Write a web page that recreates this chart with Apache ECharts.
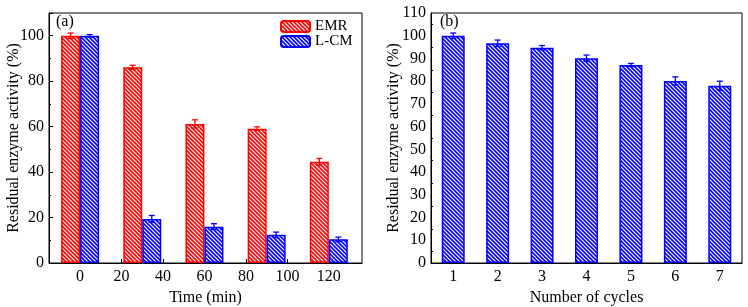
<!DOCTYPE html>
<html>
<head>
<meta charset="utf-8">
<script src="https://cdn.jsdelivr.net/npm/echarts@6/dist/echarts.min.js"></script>
<style>
  html, body { margin: 0; padding: 0; background: #fff; }
  #chart { width: 748px; height: 307px; }
</style>
</head>
<body>
<div id="chart"></div>
<script>
// panel (a): time course
const timeMin = [0, 30, 60, 90, 120];
const emrValues = [100, 86.1, 61.2, 59.1, 44.5];
const emrErr = [1.2, 0.9, 1.8, 0.8, 1.5];
const lcmValues = [100, 19.4, 16.0, 12.4, 10.4];
const lcmErr = [0.5, 1.5, 1.3, 1.2, 1.0];
const timeTicks = [0, 20, 40, 60, 80, 100, 120];

// panel (b): reuse cycles
const cycles = ['1', '2', '3', '4', '5', '6', '7'];
const cycleValues = [100, 96.7, 94.7, 90.1, 87.1, 80.1, 78.0];
const cycleErr = [1.2, 1.4, 1.0, 1.4, 0.7, 1.8, 2.0];

const FONT = 'Liberation Serif';

// diagonal hatch fill
function hatch(color) {
  const c = document.createElement('canvas');
  c.width = 4; c.height = 4;
  const ctx = c.getContext('2d');
  ctx.fillStyle = '#fff';
  ctx.fillRect(0, 0, 4, 4);
  ctx.strokeStyle = color;
  ctx.lineWidth = 1.6;
  for (let k = -1; k <= 1; k++) {
    ctx.beginPath();
    ctx.moveTo(4 * k - 1, -1);
    ctx.lineTo(4 * k + 5, 5);
    ctx.stroke();
  }
  return { image: c, repeat: 'repeat' };
}

function errorBars(xs, ys, errs, offset, color, xIdx, yIdx) {
  return {
    type: 'custom',
    xAxisIndex: xIdx,
    yAxisIndex: yIdx,
    silent: true,
    z: 5,
    data: xs.map((x, i) => [x, ys[i], errs[i]]),
    renderItem: (params, api) => {
      const lo = api.coord([api.value(0), api.value(1) - api.value(2)]);
      const hi = api.coord([api.value(0), api.value(1) + api.value(2)]);
      const x = hi[0] + offset;
      const w = 3;
      const style = { stroke: color, lineWidth: 1.3 };
      return {
        type: 'group',
        children: [
          { type: 'line', shape: { x1: x, y1: lo[1], x2: x, y2: hi[1] }, style },
          { type: 'line', shape: { x1: x - w, y1: hi[1], x2: x + w, y2: hi[1] }, style },
          { type: 'line', shape: { x1: x - w, y1: lo[1], x2: x + w, y2: lo[1] }, style }
        ]
      };
    }
  };
}

const axisText = { fontFamily: FONT, fontSize: 16, color: '#000' };
const axisLine = { show: true, onZero: false, lineStyle: { color: '#000', width: 1 } };

const chart = echarts.init(document.getElementById('chart'));
chart.setOption({
  animation: false,
  textStyle: { fontFamily: FONT },
  grid: [
    { left: 49, right: 386, top: 13, bottom: 44, outerBoundsMode: 'none', show: true, borderColor: '#000', borderWidth: 1 },
    { left: 431, right: 6, top: 13, bottom: 44, outerBoundsMode: 'none', show: true, borderColor: '#000', borderWidth: 1 }
  ],
  graphic: [
    { type: 'text', left: 56, top: 14, style: { text: '(a)', font: '16px "Liberation Serif"', fill: '#000' } },
    { type: 'text', left: 440, top: 14, style: { text: '(b)', font: '16px "Liberation Serif"', fill: '#000' } }
  ],
  legend: {
    orient: 'vertical',
    left: 280,
    top: 19,
    padding: 0,
    itemWidth: 29,
    itemHeight: 11,
    itemGap: 0,
    textStyle: { fontFamily: FONT, fontSize: 15, color: '#000' },
    data: ['EMR', 'L-CM']
  },
  xAxis: [
    {
      type: 'value', gridIndex: 0, min: -15, max: 136,
      name: 'Time (min)', nameLocation: 'middle', nameGap: 24, nameTextStyle: axisText,
      axisLine,
      axisTick: { inside: true, length: 4, customValues: timeTicks, lineStyle: { color: '#000' } },
      axisLabel: { ...axisText, margin: 6, customValues: timeTicks },
      splitLine: { show: false }
    },
    {
      type: 'category', gridIndex: 1, data: cycles,
      name: 'Number of cycles', nameLocation: 'middle', nameGap: 24, nameTextStyle: axisText,
      axisLine,
      axisTick: { inside: true, length: 4, alignWithLabel: true, lineStyle: { color: '#000' } },
      axisLabel: { ...axisText, margin: 6 }
    }
  ],
  yAxis: [
    {
      type: 'value', gridIndex: 0, min: 0, max: 110, interval: 20,
      name: 'Residual enzyme activity (%)', nameLocation: 'middle', nameGap: 27,
      nameMoveOverlap: false, nameTextStyle: axisText,
      axisLine,
      axisTick: { inside: true, length: 4, lineStyle: { color: '#000' } },
      minorTick: { show: true, splitNumber: 2, length: 2, lineStyle: { color: '#000' } },
      axisLabel: { ...axisText, margin: 5, customValues: [0, 20, 40, 60, 80, 100] },
      splitLine: { show: false }
    },
    {
      type: 'value', gridIndex: 1, min: 0, max: 110, interval: 10,
      name: 'Residual enzyme activity (%)', nameLocation: 'middle', nameGap: 29,
      nameMoveOverlap: false, nameTextStyle: axisText,
      axisLine,
      axisTick: { inside: true, length: 4, lineStyle: { color: '#000' } },
      minorTick: { show: true, splitNumber: 2, length: 2, lineStyle: { color: '#000' } },
      axisLabel: { ...axisText, margin: 5 },
      splitLine: { show: false }
    }
  ],
  series: [
    {
      name: 'EMR', type: 'bar', xAxisIndex: 0, yAxisIndex: 0,
      barWidth: 19, barGap: '0%',
      data: timeMin.map((t, i) => [t, emrValues[i]]),
      itemStyle: { color: hatch('#ff0000'), borderColor: '#ff0000', borderWidth: 1.5 }
    },
    {
      name: 'L-CM', type: 'bar', xAxisIndex: 0, yAxisIndex: 0,
      barWidth: 19, barGap: '0%',
      data: timeMin.map((t, i) => [t, lcmValues[i]]),
      itemStyle: { color: hatch('#0000ff'), borderColor: '#0000ff', borderWidth: 1.5 }
    },
    errorBars(timeMin, emrValues, emrErr, -9.5, '#ff0000', 0, 0),
    errorBars(timeMin, lcmValues, lcmErr, 9.5, '#0000ff', 0, 0),
    {
      name: 'cycles', type: 'bar', xAxisIndex: 1, yAxisIndex: 1,
      barWidth: 23,
      data: cycleValues,
      itemStyle: { color: hatch('#0000ff'), borderColor: '#0000ff', borderWidth: 1.5 }
    },
    errorBars(cycles, cycleValues, cycleErr, 0, '#0000ff', 1, 1)
  ]
});
</script>
</body>
</html>
